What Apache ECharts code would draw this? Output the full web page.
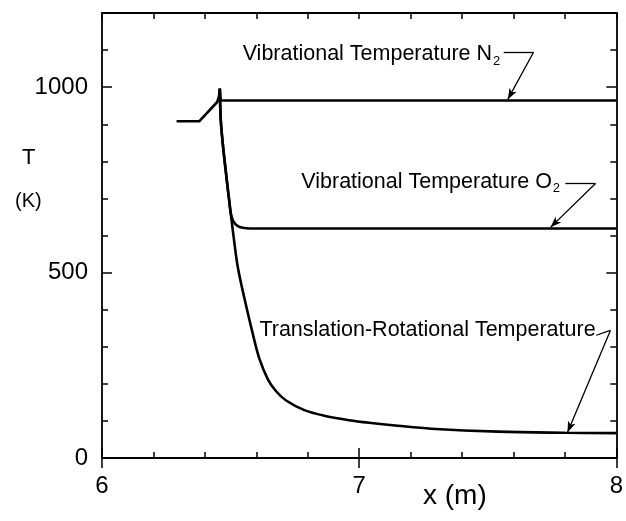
<!DOCTYPE html>
<html>
<head>
<meta charset="utf-8">
<script src="https://cdn.jsdelivr.net/npm/echarts@6/dist/echarts.min.js"></script>
<style>
html,body{margin:0;padding:0;background:#fff;}
#c{width:626px;height:521px;}
</style>
</head>
<body>
<div id="c"></div>
<script>
// Translation-rotational temperature
const trX = [6.458, 6.462, 6.470, 6.481, 6.496, 6.504, 6.513, 6.528, 6.554, 6.588, 6.612, 6.645, 6.677, 6.716, 6.787, 6.864, 6.961, 7.039, 7.150, 7.280, 7.540, 7.800, 8.0];
const trY = [996, 910, 845, 775, 686, 640, 590, 515, 430, 330, 268, 212, 180, 155, 129, 114, 102, 95, 87, 79, 71, 68, 67];
// Vibrational temperature O2
const o2X = [6.458, 6.462, 6.470, 6.481, 6.496, 6.502, 6.512, 6.527, 6.547, 6.575, 8.0];
const o2Y = [996, 910, 845, 775, 686, 656, 637, 626, 621, 619, 619];
// Vibrational temperature N2
const n2X = [6.290, 6.378, 6.448, 6.455, 6.458, 6.461, 8.0];
const n2Y = [908, 908, 960, 975, 996, 964, 964];
// tick labels
const xMajor = [6, 7, 8];
const yMajor = [0, 500, 1000];
// annotation labels
const labels = ['Vibrational Temperature N{sub|2}', 'Vibrational Temperature O{sub|2}', 'Translation-Rotational Temperature'];
const labelX = [6.547, 6.775, 6.612];
const labelY = [1088, 745, 346];
// leader lines: [bend start, bend end, arrow tip]
const leadX = [[7.562, 7.678, 7.578], [7.802, 7.919, 7.744], [7.922, 7.977, 7.810]];
const leadY = [[1094, 1094, 967], [740, 740, 622], [331, 344, 69]];

const pairs = (xs, ys) => xs.map((v, i) => [v, ys[i]]);
const FONT = 'Liberation Sans';

const baseX = {type: 'value', min: 6, max: 8, axisLine: {show: false}, splitLine: {show: false}, axisLabel: {show: false}};
const baseY = {type: 'value', min: 0, max: 1200, axisLine: {show: false}, splitLine: {show: false}, axisLabel: {show: false}};
const tickStyle = {color: '#000', width: 1.5};

const xAxes = [
  Object.assign({}, baseX, {position: 'bottom', interval: 0.2,
    axisLine: {show: true, onZero: false, lineStyle: {color: '#000', width: 1.8}},
    axisTick: {inside: true, length: 6, lineStyle: tickStyle},
    axisLabel: {show: true, margin: 16, color: '#000', fontFamily: FONT, fontSize: 24,
      formatter: v => xMajor.some(m => Math.abs(m - v) < 1e-6) ? String(Math.round(v)) : ''}}),
  Object.assign({}, baseX, {position: 'bottom', interval: 1, axisTick: {inside: true, length: 10, lineStyle: tickStyle}}),
  Object.assign({}, baseX, {position: 'top', interval: 0.2,
    axisLine: {show: true, onZero: false, lineStyle: {color: '#000', width: 1.8}},
    axisTick: {inside: true, length: 6, lineStyle: tickStyle}}),
  Object.assign({}, baseX, {position: 'top', interval: 1, axisTick: {inside: true, length: 10, lineStyle: tickStyle}})
];
const yAxes = [
  Object.assign({}, baseY, {position: 'left', interval: 100,
    axisLine: {show: true, onZero: false, lineStyle: {color: '#000', width: 1.8}},
    axisTick: {inside: true, length: 6, lineStyle: tickStyle},
    axisLabel: {show: true, margin: 14, color: '#000', fontFamily: FONT, fontSize: 24,
      formatter: v => yMajor.indexOf(Math.round(v)) >= 0 ? String(Math.round(v)) : ''}}),
  Object.assign({}, baseY, {position: 'left', interval: 500, axisTick: {inside: true, length: 10, lineStyle: tickStyle}}),
  Object.assign({}, baseY, {position: 'right', interval: 100,
    axisLine: {show: true, onZero: false, lineStyle: {color: '#000', width: 1.8}},
    axisTick: {inside: true, length: 6, lineStyle: tickStyle}}),
  Object.assign({}, baseY, {position: 'right', interval: 500, axisTick: {inside: true, length: 10, lineStyle: tickStyle}})
];

const curve = (name, xs, ys, smooth) => ({
  name, type: 'line', xAxisIndex: 0, yAxisIndex: 0, data: pairs(xs, ys),
  showSymbol: false, symbol: 'none', smooth, animation: false,
  lineStyle: {color: '#000', width: 2.6}
});

const leaderData = [];
leadX.forEach((xs, i) => {
  const ys = leadY[i];
  leaderData.push([{coord: [xs[0], ys[0]], symbol: 'none'}, {coord: [xs[1], ys[1]], symbol: 'none'}]);
  leaderData.push([{coord: [xs[1], ys[1]], symbol: 'none'}, {coord: [xs[2], ys[2]], symbol: 'arrow', symbolSize: [6, 11]}]);
});

const chart = echarts.init(document.getElementById('c'), null, {renderer: 'canvas'});
chart.setOption({
  animation: false,
  backgroundColor: '#fff',
  grid: {left: 102, right: 8, top: 13, bottom: 63, containLabel: false},
  xAxis: xAxes,
  yAxis: yAxes,
  series: [
    curve('N2', n2X, n2Y, false),
    curve('O2', o2X, o2Y, 0.35),
    curve('TR', trX, trY, 0.35),
    {
      type: 'line', xAxisIndex: 0, yAxisIndex: 0, data: [], silent: true,
      markLine: {silent: true, animation: false, symbol: ['none', 'arrow'], label: {show: false},
        lineStyle: {color: '#000', width: 1.3, type: 'solid'}, emphasis: {disabled: true},
        data: leaderData}
    }
  ]
});

const textGraphics = labels.map((t, i) => {
  const p = chart.convertToPixel({xAxisIndex: 0, yAxisIndex: 0}, [labelX[i], labelY[i]]);
  return {type: 'text', x: p[0], y: p[1], silent: true,
    style: {text: t, fontFamily: FONT, fontSize: 21.5, fill: '#000', verticalAlign: 'middle', align: 'left',
      rich: {sub: {fontSize: 13, fontFamily: FONT, fill: '#000', padding: [14, 0, 0, 1]}}}};
});
chart.setOption({
  graphic: textGraphics.concat([
    {type: 'text', left: 22, top: 147, style: {text: 'T', fontFamily: FONT, fontSize: 22, fill: '#000'}},
    {type: 'text', left: 15, top: 191, style: {text: '(K)', fontFamily: FONT, fontSize: 20, fill: '#000'}},
    {type: 'text', left: 423, top: 482, style: {text: 'x (m)', fontFamily: FONT, fontSize: 28, fill: '#000'}}
  ])
});
</script>
</body>
</html>
